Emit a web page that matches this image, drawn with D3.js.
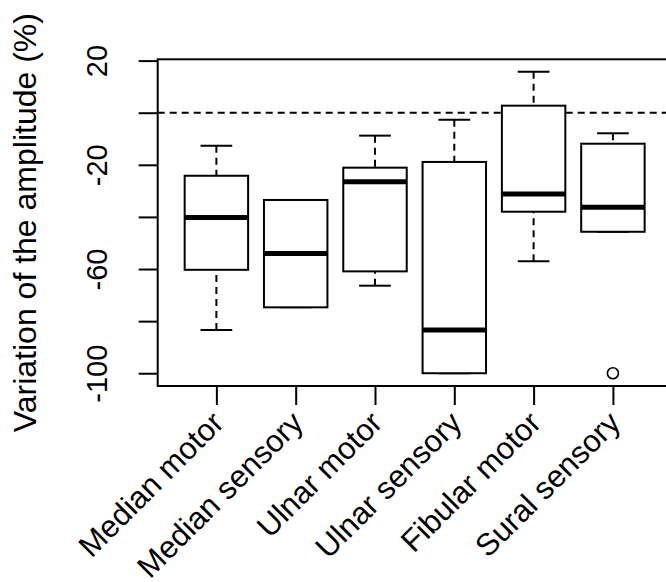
<!DOCTYPE html>
<html>
<head>
<meta charset="utf-8">
<script src="https://cdn.jsdelivr.net/npm/d3@7"></script>
<style>
  body { margin: 0; background: white; }
  text { font-family: "Liberation Sans", Arial, sans-serif; }
</style>
</head>
<body>
<div id="chart"></div>
<script>
let width = 666, height = 582;

// values
let categories = ["Median motor", "Median sensory", "Ulnar motor", "Ulnar sensory", "Fibular motor", "Sural sensory"];
let whiskerLow  = [-83.4, -74.7, -66.4, -100, -57.0, -45.7];
let q1          = [-60.3, -74.7, -60.9, -100, -38.0, -45.7];
let medians     = [-40.2, -54.0, -26.5, -83.4, -31.2, -36.3];
let q3          = [-24.2, -33.5, -21.1, -18.9, 2.7, -11.9];
let whiskerHigh = [-12.7, -33.5, -8.8, -2.7, 15.7, -7.9];
let outlierCats = ["Sural sensory"];
let outlierVals = [-100];
let yTicks = [20, 0, -20, -40, -60, -80, -100];
let yLabels = [20, -20, -60, -100];
let refLine = 0;

let plot = { left: 157.7, top: 59.3, bottom: 386, right: 671.6 };

let svg = d3.select('#chart')
  .append('svg')
  .attr('width', width)
  .attr('height', height)
  .style('background', 'white');

let xscale = d3.scaleLinear()
  .domain([0.26, categories.length + 0.74])
  .range([plot.left, plot.right]);

let yscale = d3.scaleLinear()
  .domain([-104.9, 20.5])
  .range([plot.bottom, plot.top]);

let boxes = categories.map((c, i) => ({
  name: c, pos: i + 1,
  lo: whiskerLow[i], q1: q1[i], med: medians[i], q3: q3[i], hi: whiskerHigh[i]
}));

// reference line at 0
svg.append('line')
  .attr('x1', plot.left).attr('x2', width)
  .attr('y1', yscale(refLine)).attr('y2', yscale(refLine))
  .attr('stroke', 'black')
  .attr('stroke-width', 2)
  .attr('stroke-dasharray', '7,5');

let g = svg.selectAll('g.box')
  .data(boxes)
  .enter()
  .append('g')
  .attr('class', 'box');

// whiskers
g.append('line')
  .attr('x1', d => xscale(d.pos)).attr('x2', d => xscale(d.pos))
  .attr('y1', d => yscale(d.hi)).attr('y2', d => yscale(d.q3))
  .attr('stroke', 'black').attr('stroke-width', 2)
  .attr('stroke-dasharray', '7,5');

g.append('line')
  .attr('x1', d => xscale(d.pos)).attr('x2', d => xscale(d.pos))
  .attr('y1', d => yscale(d.lo)).attr('y2', d => yscale(d.q1))
  .attr('stroke', 'black').attr('stroke-width', 2)
  .attr('stroke-dasharray', '7,5');

// staples
[d => d.hi, d => d.lo].forEach(f => {
  g.append('line')
    .attr('x1', d => xscale(d.pos - 0.2)).attr('x2', d => xscale(d.pos + 0.2))
    .attr('y1', d => yscale(f(d))).attr('y2', d => yscale(f(d)))
    .attr('stroke', 'black').attr('stroke-width', 2);
});

// boxes
g.append('rect')
  .attr('x', d => xscale(d.pos - 0.4))
  .attr('y', d => yscale(d.q3))
  .attr('width', d => xscale(d.pos + 0.4) - xscale(d.pos - 0.4))
  .attr('height', d => yscale(d.q1) - yscale(d.q3))
  .attr('fill', 'white')
  .attr('stroke', 'black')
  .attr('stroke-width', 2);

// medians
g.append('line')
  .attr('x1', d => xscale(d.pos - 0.4)).attr('x2', d => xscale(d.pos + 0.4))
  .attr('y1', d => yscale(d.med)).attr('y2', d => yscale(d.med))
  .attr('stroke', 'black').attr('stroke-width', 5);

// outliers
svg.selectAll('circle')
  .data(outlierCats.map((c, i) => ({ pos: categories.indexOf(c) + 1, v: outlierVals[i] })))
  .enter()
  .append('circle')
  .attr('cx', d => xscale(d.pos))
  .attr('cy', d => yscale(d.v))
  .attr('r', 5.5)
  .attr('fill', 'none')
  .attr('stroke', 'black')
  .attr('stroke-width', 1.6);

// y axis
let yAxis = svg.append('g')
  .attr('transform', `translate(${plot.left}, 0)`)
  .call(d3.axisLeft(yscale)
    .tickValues(yTicks)
    .tickSize(19)
    .tickFormat(d => yLabels.includes(d) ? d : ''));

yAxis.select('.domain').remove();
yAxis.selectAll('line').attr('stroke-width', 2);
yAxis.selectAll('text')
  .attr('x', 0)
  .attr('y', -51)
  .attr('dy', 0)
  .attr('transform', 'rotate(-90)')
  .attr('text-anchor', 'middle')
  .style('font-size', '29px')
  .style('fill', 'black');

// x axis
let xAxis = svg.append('g')
  .attr('transform', `translate(0, ${plot.bottom})`)
  .call(d3.axisBottom(xscale)
    .tickValues(boxes.map(d => d.pos))
    .tickSize(19)
    .tickFormat((d, i) => categories[i]));

xAxis.select('.domain').remove();
xAxis.selectAll('line').attr('stroke-width', 2);
xAxis.selectAll('text')
  .attr('x', 0)
  .attr('y', 0)
  .attr('dy', '0.35em')
  .attr('transform', 'translate(1, 31) rotate(-45)')
  .attr('text-anchor', 'end')
  .style('font-size', '31px')
  .style('fill', 'black');

// plot frame (right side falls outside the picture)
svg.append('rect')
  .attr('x', plot.left)
  .attr('y', plot.top)
  .attr('width', plot.right - plot.left)
  .attr('height', plot.bottom - plot.top)
  .attr('fill', 'none')
  .attr('stroke', 'black')
  .attr('stroke-width', 2);

svg.append('text')
  .text('Variation of the amplitude (%)')
  .attr('transform', `translate(36, ${(plot.top + plot.bottom) / 2}) rotate(-90)`)
  .attr('text-anchor', 'middle')
  .style('font-size', '32px');
</script>
</body>
</html>
